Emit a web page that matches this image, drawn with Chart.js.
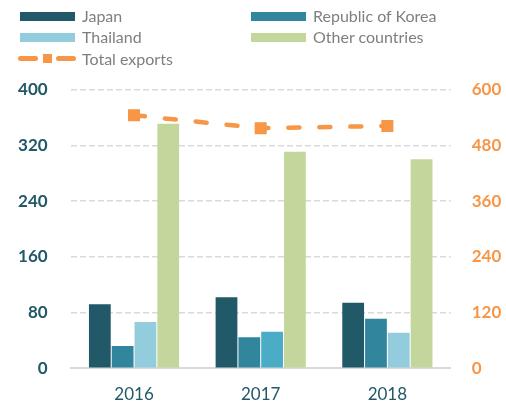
<!DOCTYPE html>
<html>
<head>
<meta charset="utf-8">
<script src="https://cdn.jsdelivr.net/npm/chart.js@4"></script>
<style>
  html, body { margin: 0; padding: 0; background: #fff; }
  #wrap { position: relative; width: 506px; height: 403px; }
  #c { position: absolute; left: 0; top: 0; }
  .lg { position: absolute; font-family: Lato, "Open Sans", sans-serif; font-size: 16px; color: #7f7f7f; white-space: nowrap; line-height: 20px; }
  .sw { position: absolute; }
</style>
</head>
<body>
<div id="wrap">
  <canvas id="c" width="506" height="403"></canvas>
  <div id="legend"></div>
</div>
<script>
const categories = ['2016', '2017', '2018'];
const japan = [92, 102, 94];
const korea = [32, 44.5, 71];
const thailand = [66.5, 52.5, 51];
const otherCountries = [351, 311, 300];
const totalExports = [545, 517, 522];
const leftTicks = [0, 80, 160, 240, 320, 400];
const rightTicks = [0, 120, 240, 360, 480, 600];

const C_JAPAN = '#215968', C_KOREA = '#31859C', C_THAI = '#93CDDD', C_THAI2 = '#4BACC6', C_OTHER = '#C3D69B', C_ORANGE = '#F79646';

const barCommon = { categoryPercentage: 0.72, barPercentage: 0.955, yAxisID: 'y', order: 2 };

const chart = new Chart(document.getElementById('c'), {
  type: 'bar',
  data: {
    labels: categories,
    datasets: [
      Object.assign({ label: 'Japan', data: japan, backgroundColor: C_JAPAN }, barCommon),
      Object.assign({ label: 'Republic of Korea', data: korea, backgroundColor: C_KOREA }, barCommon),
      Object.assign({ label: 'Thailand', data: thailand, backgroundColor: [C_THAI, C_THAI2, C_THAI] }, barCommon),
      Object.assign({ label: 'Other countries', data: otherCountries, backgroundColor: C_OTHER }, barCommon),
      {
        type: 'line', label: 'Total exports', data: totalExports, yAxisID: 'y2', order: 1,
        borderColor: C_ORANGE, backgroundColor: C_ORANGE, borderWidth: 4.5,
        borderDash: [11, 20], borderCapStyle: 'round', tension: 0,
        pointStyle: 'rect', pointRadius: 8.5, pointBorderWidth: 0, pointBackgroundColor: C_ORANGE
      }
    ]
  },
  options: {
    responsive: false, animation: false, devicePixelRatio: 1,
    layout: { padding: { top: 89.7, left: 0, right: 0, bottom: 0 } },
    plugins: { legend: { display: false }, tooltip: { enabled: false }, title: { display: false } },
    scales: {
      x: {
        grid: { display: false, drawTicks: false },
        border: { display: true, color: '#d9d9d9', width: 2 },
        ticks: { color: C_JAPAN, font: { family: 'Lato', size: 17 }, padding: 16 },
        afterFit(s) { s.height = 34.7; }
      },
      y: {
        position: 'left', min: 0, max: 400,
        afterBuildTicks(s) { s.ticks = leftTicks.map(v => ({ value: v })); },
        grid: { color: ctx => ctx.tick && ctx.tick.value === 0 ? 'rgba(0,0,0,0)' : '#d9d9d9', lineWidth: 1.5, drawTicks: false },
        border: { display: false, dash: [6, 3] },
        ticks: { color: C_JAPAN, font: { family: 'Lato', size: 17, weight: 'bold' }, padding: 23 },
        afterFit(s) { s.width = 70.7; }
      },
      y2: {
        position: 'right', min: 0, max: 600,
        afterBuildTicks(s) { s.ticks = rightTicks.map(v => ({ value: v })); },
        grid: { display: false, drawTicks: false },
        border: { display: false },
        ticks: { color: C_ORANGE, font: { family: 'Lato', size: 17, weight: 'bold' }, padding: 21 },
        afterFit(s) { s.width = 55.3; }
      }
    }
  }
});

// HTML legend built from datasets
const legendPos = [
  { sx: 20, tx: 82, y: 16 }, { sx: 251, tx: 313, y: 16 },
  { sx: 20, tx: 82, y: 37 }, { sx: 251, tx: 313, y: 37 },
  { sx: 20, tx: 82, y: 58.5 }
];
const lg = document.getElementById('legend');
chart.data.datasets.forEach((ds, i) => {
  const p = legendPos[i];
  const col = Array.isArray(ds.backgroundColor) ? ds.backgroundColor[0] : ds.backgroundColor;
  if (ds.type === 'line') {
    const parts = [[18, 20], [56, 20]];
    parts.forEach(([x, w]) => {
      const d = document.createElement('div');
      d.className = 'sw';
      Object.assign(d.style, { left: x + 'px', top: (p.y - 2.5) + 'px', width: w + 'px', height: '5px', background: col, borderRadius: '3px' });
      lg.appendChild(d);
    });
    const sq = document.createElement('div');
    sq.className = 'sw';
    Object.assign(sq.style, { left: '43px', top: (p.y - 4.5) + 'px', width: '9px', height: '9px', background: col });
    lg.appendChild(sq);
  } else {
    const d = document.createElement('div');
    d.className = 'sw';
    Object.assign(d.style, { left: p.sx + 'px', top: (p.y - 4.5) + 'px', width: '55px', height: '9px', background: col });
    lg.appendChild(d);
  }
  const t = document.createElement('div');
  t.className = 'lg';
  t.textContent = ds.label;
  Object.assign(t.style, { left: p.tx + 'px', top: (p.y - 10) + 'px' });
  lg.appendChild(t);
});
</script>
</body>
</html>
